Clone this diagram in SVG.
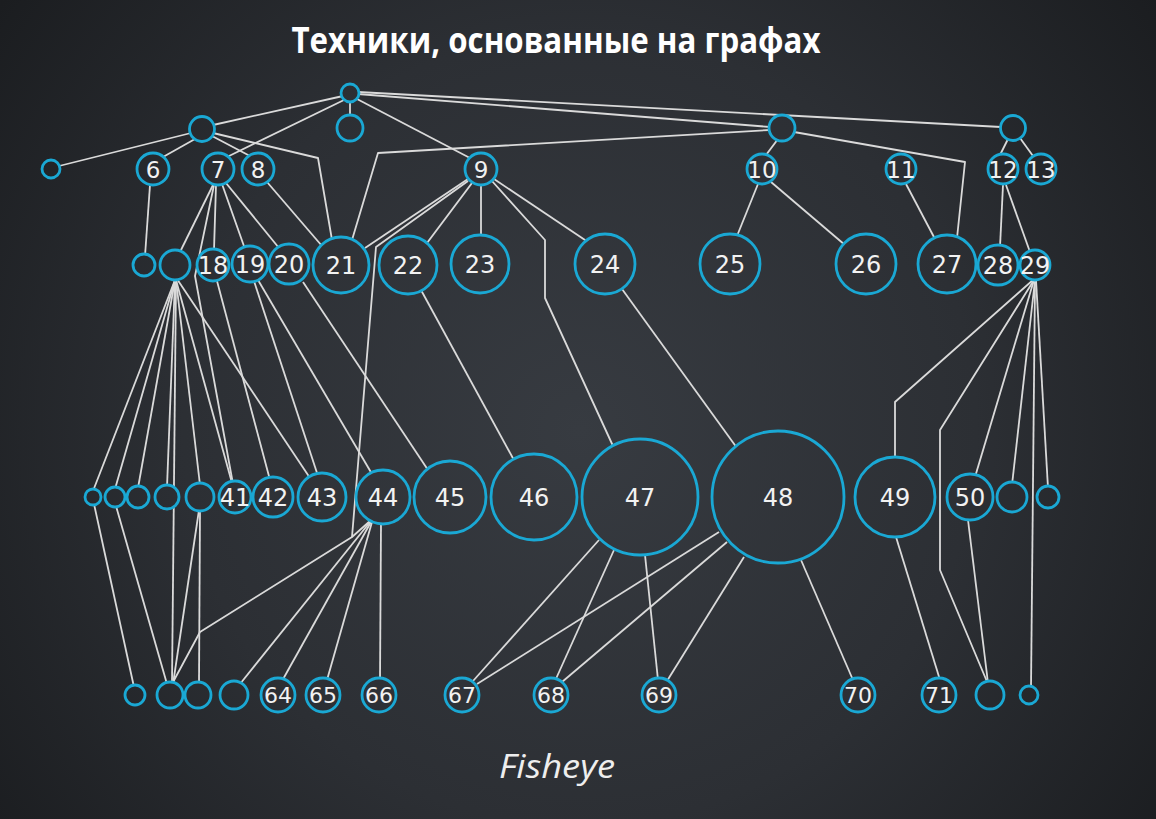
<svg xmlns="http://www.w3.org/2000/svg" width="1156" height="819" viewBox="0 0 1156 819">
<defs>
<radialGradient id="bg" gradientUnits="userSpaceOnUse" cx="580" cy="430" r="720">
<stop offset="0" stop-color="#373b41"/>
<stop offset="0.55" stop-color="#2c2f34"/>
<stop offset="1" stop-color="#1b1d20"/>
</radialGradient>
<style>
.e{fill:none;stroke:#dadada;stroke-width:1.8;stroke-linejoin:round}
.n circle{fill:url(#bg);stroke:#1aa8d4;stroke-width:2.8}
.n text{fill:#f2f2f2;font-family:"DejaVu Sans",sans-serif;text-anchor:middle}
.r2 text{font-size:23px}
.r3 text{font-size:24px}
.r5 text{font-size:22px}
</style>
</defs>
<rect width="1156" height="819" fill="url(#bg)"/>
<text x="556" y="53" font-family="'Open Sans',sans-serif" font-weight="700" font-size="35" fill="#ffffff" text-anchor="middle" textLength="529" lengthAdjust="spacingAndGlyphs">Техники, основанные на графах</text>
<text x="557" y="778" font-family="'Open Sans',sans-serif" font-style="italic" font-size="32" fill="#eeeeee" text-anchor="middle" textLength="116" lengthAdjust="spacingAndGlyphs">Fisheye</text>
<g id="edges">
<path class="e" d="M343 96L213 125"/>
<path class="e" d="M350 101L350 116"/>
<path class="e" d="M344 100L227 157"/>
<path class="e" d="M357 99L470 158"/>
<path class="e" d="M358 94L770 127"/>
<path class="e" d="M358 92L1001 127"/>
<path class="e" d="M191 133L59 166"/>
<path class="e" d="M195 139L163 157"/>
<path class="e" d="M212 136L250 156"/>
<path class="e" d="M213 133L318 158L332 240"/>
<path class="e" d="M770 130L378 153L352 240"/>
<path class="e" d="M778 139L766 155"/>
<path class="e" d="M794 132L965 162L957 238"/>
<path class="e" d="M1008 139L1000 155"/>
<path class="e" d="M1020 138L1033 156"/>
<path class="e" d="M150 185L145 256"/>
<path class="e" d="M213 185L180 252"/>
<path class="e" d="M214 185L195 276L233 484"/>
<path class="e" d="M216 185L214 250"/>
<path class="e" d="M222 184L245 249"/>
<path class="e" d="M226 183L279 248"/>
<path class="e" d="M267 182L322 246"/>
<path class="e" d="M468 179L365 248"/>
<path class="e" d="M468 181L376 247L352 537L200 632L172 684"/>
<path class="e" d="M472 183L427 243"/>
<path class="e" d="M481 185L481 236"/>
<path class="e" d="M492 181L545 240L545 298L613 446"/>
<path class="e" d="M494 179L588 242"/>
<path class="e" d="M758 184L737 236"/>
<path class="e" d="M771 182L845 245"/>
<path class="e" d="M906 184L935 239"/>
<path class="e" d="M1003 185L1000 247"/>
<path class="e" d="M1006 185L1030 252"/>
<path class="e" d="M175 280L93 491"/>
<path class="e" d="M175 280L115 489"/>
<path class="e" d="M175 280L138 488"/>
<path class="e" d="M175 280L167 487"/>
<path class="e" d="M176 280L172 684"/>
<path class="e" d="M176 280L200 485"/>
<path class="e" d="M176 280L232 483"/>
<path class="e" d="M177 279L310 478"/>
<path class="e" d="M217 281L270 480"/>
<path class="e" d="M254 281L318 476"/>
<path class="e" d="M258 280L372 474"/>
<path class="e" d="M303 282L428 470"/>
<path class="e" d="M421 290L515 462"/>
<path class="e" d="M622 289L737 448"/>
<path class="e" d="M1033 280L895 402L895 459"/>
<path class="e" d="M1034 280L940 430L940 570L988 684"/>
<path class="e" d="M1034 280L975 477"/>
<path class="e" d="M1035 280L1012 485"/>
<path class="e" d="M1035 280L1031 688"/>
<path class="e" d="M1036 280L1048 488"/>
<path class="e" d="M94 504L134 687"/>
<path class="e" d="M116 506L167 684"/>
<path class="e" d="M199 510L173 684"/>
<path class="e" d="M200 510L199 684"/>
<path class="e" d="M370 521L352 537"/>
<path class="e" d="M370 522L240 684"/>
<path class="e" d="M371 522L282 681"/>
<path class="e" d="M372 522L327 680"/>
<path class="e" d="M381 523L380 680"/>
<path class="e" d="M599 540L473 681"/>
<path class="e" d="M719 532L477 684"/>
<path class="e" d="M614 550L555 681"/>
<path class="e" d="M645 555L658 680"/>
<path class="e" d="M727 542L562 682"/>
<path class="e" d="M744 557L667 681"/>
<path class="e" d="M801 560L853 680"/>
<path class="e" d="M896 537L940 680"/>
<path class="e" d="M968 520L988 683"/>
</g>
<g id="root" class="n"><circle cx="350" cy="93" r="9"/></g>
<g id="a" class="n"><circle cx="202" cy="129" r="12.5"/></g>
<g id="b" class="n"><circle cx="350" cy="128" r="13"/></g>
<g id="c" class="n"><circle cx="782" cy="128" r="13"/></g>
<g id="d" class="n"><circle cx="1013" cy="128" r="12.5"/></g>
<g id="s1" class="n"><circle cx="51" cy="169" r="9"/></g>
<g id="n6" class="n r2"><circle cx="153" cy="169" r="16"/><text x="153" y="177.5">6</text></g>
<g id="n7" class="n r2"><circle cx="218" cy="169" r="16"/><text x="218" y="177.5">7</text></g>
<g id="n8" class="n r2"><circle cx="258" cy="169" r="16"/><text x="258" y="177.5">8</text></g>
<g id="n9" class="n r2"><circle cx="481" cy="169" r="16"/><text x="481" y="177.5">9</text></g>
<g id="n10" class="n r2"><circle cx="762" cy="169" r="15"/><text x="762" y="177.5">10</text></g>
<g id="n11" class="n r2"><circle cx="901" cy="169" r="15"/><text x="901" y="177.5">11</text></g>
<g id="n12" class="n r2"><circle cx="1003" cy="169" r="15"/><text x="1003" y="177.5">12</text></g>
<g id="n13" class="n r2"><circle cx="1041" cy="169" r="15"/><text x="1041" y="177.5">13</text></g>
<g id="s2" class="n"><circle cx="144" cy="265" r="11"/></g>
<g id="s3" class="n"><circle cx="175" cy="265" r="15"/></g>
<g id="n18" class="n r3"><circle cx="213" cy="265" r="16"/><text x="213" y="274">18</text></g>
<g id="n19" class="n r3"><circle cx="250" cy="264" r="18"/><text x="250" y="273">19</text></g>
<g id="n20" class="n r3"><circle cx="289" cy="264" r="20"/><text x="289" y="273">20</text></g>
<g id="n21" class="n r3"><circle cx="341" cy="265" r="28"/><text x="341" y="274">21</text></g>
<g id="n22" class="n r3"><circle cx="408" cy="265" r="29"/><text x="408" y="274">22</text></g>
<g id="n23" class="n r3"><circle cx="480" cy="264" r="29"/><text x="480" y="273">23</text></g>
<g id="n24" class="n r3"><circle cx="605" cy="264" r="30"/><text x="605" y="273">24</text></g>
<g id="n25" class="n r3"><circle cx="730" cy="264" r="30"/><text x="730" y="273">25</text></g>
<g id="n26" class="n r3"><circle cx="866" cy="264" r="30"/><text x="866" y="273">26</text></g>
<g id="n27" class="n r3"><circle cx="947" cy="264" r="29"/><text x="947" y="273">27</text></g>
<g id="n28" class="n r3"><circle cx="998" cy="265" r="20"/><text x="998" y="274">28</text></g>
<g id="n29" class="n r3"><circle cx="1035" cy="265" r="15"/><text x="1035" y="274">29</text></g>
<g id="s4" class="n"><circle cx="93" cy="497" r="8"/></g>
<g id="s5" class="n"><circle cx="115" cy="497" r="10"/></g>
<g id="s6" class="n"><circle cx="138" cy="497" r="11"/></g>
<g id="s7" class="n"><circle cx="167" cy="497" r="12"/></g>
<g id="s8" class="n"><circle cx="200" cy="497" r="14"/></g>
<g id="n41" class="n r3"><circle cx="235" cy="497" r="16"/><text x="235" y="506">41</text></g>
<g id="n42" class="n r3"><circle cx="273" cy="497" r="20"/><text x="273" y="506">42</text></g>
<g id="n43" class="n r3"><circle cx="322" cy="497" r="24"/><text x="322" y="506">43</text></g>
<g id="n44" class="n r3"><circle cx="383" cy="497" r="27"/><text x="383" y="506">44</text></g>
<g id="n45" class="n r3"><circle cx="450" cy="497" r="36"/><text x="450" y="506">45</text></g>
<g id="n46" class="n r3"><circle cx="534" cy="497" r="43"/><text x="534" y="506">46</text></g>
<g id="n47" class="n r3"><circle cx="640" cy="497" r="58"/><text x="640" y="506">47</text></g>
<g id="n48" class="n r3"><circle cx="778" cy="497" r="66"/><text x="778" y="506">48</text></g>
<g id="n49" class="n r3"><circle cx="895" cy="497" r="40"/><text x="895" y="506">49</text></g>
<g id="n50" class="n r3"><circle cx="970" cy="497" r="23"/><text x="970" y="506">50</text></g>
<g id="s9" class="n"><circle cx="1012" cy="497" r="15"/></g>
<g id="s10" class="n"><circle cx="1048" cy="497" r="11"/></g>
<g id="s11" class="n"><circle cx="135" cy="695" r="10"/></g>
<g id="s12" class="n"><circle cx="170" cy="695" r="13"/></g>
<g id="s13" class="n"><circle cx="198" cy="695" r="13"/></g>
<g id="s14" class="n"><circle cx="234" cy="695" r="14"/></g>
<g id="n64" class="n r5"><circle cx="278" cy="695" r="17"/><text x="278" y="703">64</text></g>
<g id="n65" class="n r5"><circle cx="323" cy="695" r="17"/><text x="323" y="703">65</text></g>
<g id="n66" class="n r5"><circle cx="379" cy="695" r="17"/><text x="379" y="703">66</text></g>
<g id="n67" class="n r5"><circle cx="462" cy="695" r="17"/><text x="462" y="703">67</text></g>
<g id="n68" class="n r5"><circle cx="551" cy="695" r="17"/><text x="551" y="703">68</text></g>
<g id="n69" class="n r5"><circle cx="659" cy="695" r="17"/><text x="659" y="703">69</text></g>
<g id="n70" class="n r5"><circle cx="858" cy="695" r="17"/><text x="858" y="703">70</text></g>
<g id="n71" class="n r5"><circle cx="939" cy="695" r="17"/><text x="939" y="703">71</text></g>
<g id="s15" class="n"><circle cx="990" cy="695" r="14"/></g>
<g id="s16" class="n"><circle cx="1029" cy="695" r="9"/></g>
</svg>
